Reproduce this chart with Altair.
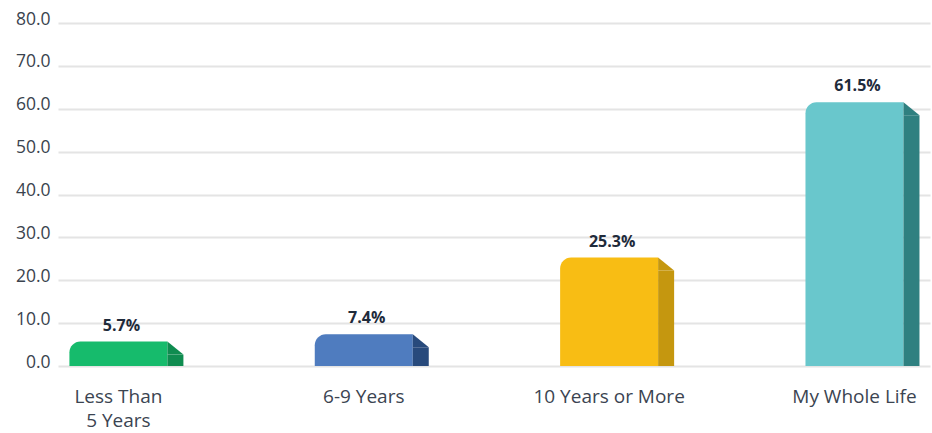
import altair as alt
import pandas as pd

# Survey answers: how long respondents have lived in the area (share, %)
categories = ["Less Than\n5 Years", "6-9 Years", "10 Years or More", "My Whole Life"]
shares = [5.7, 7.4, 25.3, 61.5]
front_colors = ["#16bb6c", "#4f7cbf", "#f8bd14", "#69c7cc"]
side_colors = ["#0f8c50", "#284a7c", "#c5970f", "#2f8080"]

df = pd.DataFrame({
    "category": categories,
    "share": shares,
    "front": front_colors,
    "side": side_colors,
})
df["label"] = df["share"].map(lambda v: f"{v:.1f}%")

FONT = "Open Sans"
FRONT_W = 98
SIDE_W = 16
SLANT = 13

x_scale = alt.Scale(paddingInner=0.6, paddingOuter=0.077, align=0.3)

x_enc = alt.X(
    "category:N",
    sort=categories,
    scale=x_scale,
    axis=alt.Axis(
        title=None, domain=False, ticks=False, labelAngle=0,
        labelExpr="split(datum.label, '\\n')",
        labelFont=FONT, labelFontSize=19, labelColor="#3b4451",
        labelPadding=21, labelLineHeight=24, labelBaseline="top",
    ),
)
y_enc = alt.Y(
    "share:Q",
    scale=alt.Scale(domain=[0, 80]),
    axis=alt.Axis(
        title=None, domain=False, ticks=False,
        values=list(range(0, 81, 10)), format=".1f",
        labelFont=FONT, labelFontSize=17.5, labelColor="#3a434e",
        labelPadding=8, labelOffset=-4,
        grid=True, gridColor="#e4e4e4", gridWidth=2,
    ),
)

base = alt.Chart(df)
x_plain = alt.X("category:N", sort=categories)

front = base.mark_bar(width=FRONT_W, cornerRadiusTopLeft=11).encode(
    x=x_enc, y=y_enc, y2=alt.datum(0),
    color=alt.Color("front:N", scale=None),
)

side = base.mark_bar(
    width=SIDE_W, xOffset=FRONT_W / 2 + SIDE_W / 2, yOffset=SLANT, y2Offset=0
).encode(
    x=x_plain, y="share:Q", y2=alt.datum(0),
    color=alt.Color("side:N", scale=None),
)

# slanted top of the side face
wedge = base.mark_point(
    shape="M -1 -0.8125 L 1 0.8125 L -1 0.8125 Z",
    size=SIDE_W ** 2, filled=True, opacity=1, strokeWidth=0,
    xOffset=FRONT_W / 2 + SIDE_W / 2, yOffset=SLANT / 2,
).encode(
    x=x_plain, y="share:Q",
    color=alt.Color("side:N", scale=None),
)

labels = base.mark_text(
    baseline="bottom", dy=-8, dx=3, font=FONT, fontSize=16, fontWeight="bold",
    color="#1f2b3b",
).encode(
    x=x_plain, y="share:Q", text="label:N",
)

chart = (
    alt.layer(front, side, wedge, labels)
    .properties(
        width=872, height=343,
        autosize=alt.AutoSizeParams(type="none"),
        padding={"left": 58, "top": 23, "right": 2, "bottom": 67},
        background="white",
    )
    .configure_view(stroke=None)
)

chart.save("out.html", embed_options={"renderer": "svg", "actions": False})
